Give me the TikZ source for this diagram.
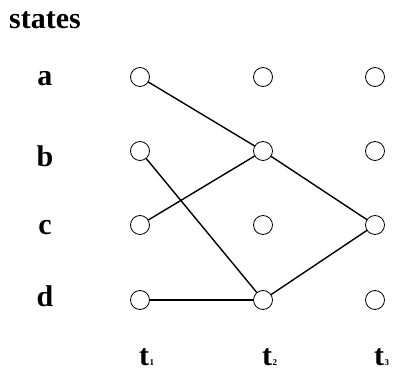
\documentclass[tikz,border=0pt]{standalone}
\usepackage{fontspec}
\setmainfont{Liberation Serif}
\usepackage{tikz}

\begin{document}
\begin{tikzpicture}[x=1pt,y=-1pt,
    state/.style={draw,circle,minimum size=19pt,inner sep=0pt,line width=0.8pt},
    lbl/.style={font=\fontsize{30}{34}\selectfont\bfseries,inner sep=0pt},
    sub/.style={font=\fontsize{9}{9}\selectfont\bfseries,inner sep=0pt},
    link/.style={line width=1.4pt}]

\useasboundingbox (0,0) rectangle (394,379);

% Title
\node[lbl,anchor=base west] (title) at (9,29) {states};

% Row labels
\node[lbl,anchor=base] (la) at (45,86) {a};
\node[lbl,anchor=base] (lb) at (45,167) {b};
\node[lbl,anchor=base] (lc) at (45,235) {c};
\node[lbl,anchor=base] (ld) at (45,307) {d};

% States at each time
\node[state] (a1) at (140,77) {};
\node[state] (b1) at (140,151) {};
\node[state] (c1) at (140,225) {};
\node[state] (d1) at (140,300) {};

\node[state] (a2) at (263,77) {};
\node[state] (b2) at (263,151) {};
\node[state] (c2) at (263,225) {};
\node[state] (d2) at (263,300) {};

\node[state] (a3) at (375,77) {};
\node[state] (b3) at (375,151) {};
\node[state] (c3) at (375,225) {};
\node[state] (d3) at (375,300) {};

% Time labels
\node[lbl,anchor=base west] (t1) at (139,366) {t};
\node[sub,anchor=base west] (s1) at (t1.base east) {1};
\node[lbl,anchor=base west] (t2) at (262,366) {t};
\node[sub,anchor=base west] (s2) at (t2.base east) {2};
\node[lbl,anchor=base west] (t3) at (374,366) {t};
\node[sub,anchor=base west] (s3) at (t3.base east) {3};

% Transitions
\draw[link] (a1) -- (b2);
\draw[link] (b1) -- (d2);
\draw[link] (c1) -- (b2);
\draw[link] (d1) -- (d2);
\draw[link] (b2) -- (c3);
\draw[link] (d2) -- (c3);

\end{tikzpicture}
\end{document}
